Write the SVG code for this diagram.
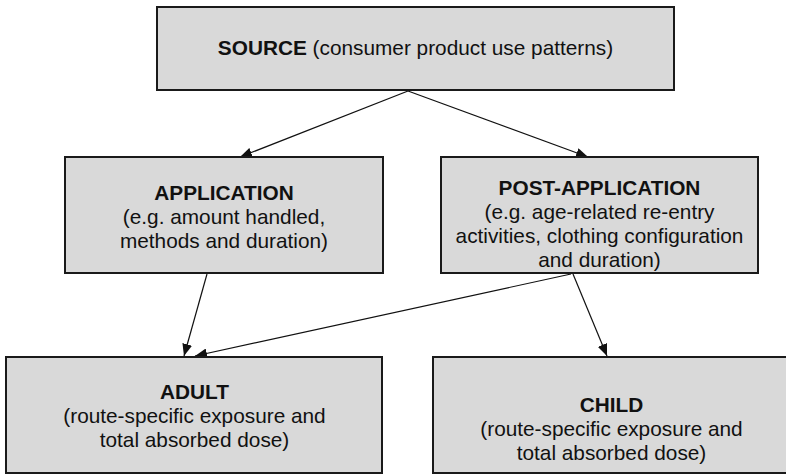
<svg xmlns="http://www.w3.org/2000/svg" width="786" height="476" viewBox="0 0 786 476">
  <style>
    .box { fill: #d9d9d9; stroke: #1a1a1a; stroke-width: 2; }
    .t { font-family: "Liberation Sans", Arial, Helvetica, sans-serif; font-size: 20.8px; fill: #111; text-anchor: middle; }
    .b { font-weight: bold; }
    .edge { stroke: #111; stroke-width: 1.2; fill: none; marker-end: url(#arrow); }
  </style>
  <defs>
    <marker id="arrow" viewBox="0 0 12 10" refX="12" refY="5" markerWidth="12" markerHeight="10" markerUnits="userSpaceOnUse" orient="auto">
      <path d="M0,0 L12,5 L0,10 Z" fill="#111"/>
    </marker>
  </defs>
  <rect width="786" height="476" fill="#ffffff"/>

  <g id="connectors">
    <line class="edge" x1="408" y1="91" x2="240" y2="157"/>
    <line class="edge" x1="408" y1="91" x2="588" y2="157"/>
    <line class="edge" x1="207" y1="274" x2="184" y2="356"/>
    <line class="edge" x1="571" y1="274" x2="195" y2="356"/>
    <line class="edge" x1="573" y1="274" x2="607" y2="356"/>
  </g>

  <g id="source">
    <rect class="box" x="157" y="7" width="517" height="83"/>
    <text class="t" x="415.5" y="55"><tspan class="b">SOURCE</tspan> (consumer product use patterns)</text>
  </g>

  <g id="application">
    <rect class="box" x="65" y="157" width="318" height="116"/>
    <text class="t b" x="224" y="200">APPLICATION</text>
    <text class="t" x="224" y="224">(e.g. amount handled,</text>
    <text class="t" x="224" y="248">methods and duration)</text>
  </g>

  <g id="post-application">
    <rect class="box" x="441" y="157" width="317" height="116"/>
    <text class="t b" x="599.5" y="195">POST-APPLICATION</text>
    <text class="t" x="599.5" y="219">(e.g. age-related re-entry</text>
    <text class="t" x="599.5" y="243">activities, clothing configuration</text>
    <text class="t" x="599.5" y="267">and duration)</text>
  </g>

  <g id="adult">
    <rect class="box" x="6" y="357" width="376" height="116"/>
    <text class="t b" x="194.5" y="399">ADULT</text>
    <text class="t" x="194.5" y="423">(route-specific exposure and</text>
    <text class="t" x="194.5" y="447">total absorbed dose)</text>
  </g>

  <g id="child">
    <rect class="box" x="433" y="357" width="360" height="116"/>
    <text class="t b" x="611.5" y="412">CHILD</text>
    <text class="t" x="611.5" y="436">(route-specific exposure and</text>
    <text class="t" x="611.5" y="460">total absorbed dose)</text>
  </g>
</svg>
